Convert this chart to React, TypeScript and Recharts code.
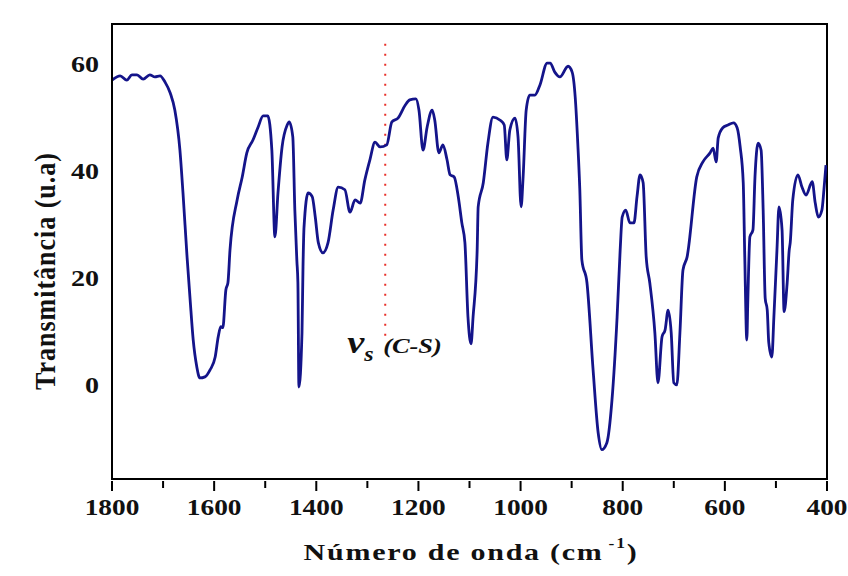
import React from 'react';
import {
  LineChart,
  Line,
  XAxis,
  YAxis,
  ReferenceLine,
  ReferenceArea
} from 'recharts';

// wavenumber (cm-1) from left to right
const wavenumbers = [
  1800, 1784, 1771, 1761, 1751, 1739, 1726, 1716, 1706, 1696, 1686, 1677, 1667, 1661, 1653,
  1647, 1641, 1634, 1628, 1618, 1608, 1598, 1592, 1587, 1583, 1577, 1573, 1569, 1555, 1545,
  1536, 1524, 1514, 1504, 1495, 1487, 1481, 1475, 1467, 1457, 1453, 1446, 1442, 1438, 1436,
  1434, 1428, 1426, 1424, 1416, 1408, 1402, 1396, 1387, 1377, 1367, 1357, 1344, 1334, 1324,
  1314, 1305, 1295, 1285, 1275, 1262, 1252, 1240, 1226, 1217, 1205, 1199, 1191, 1183, 1173,
  1168, 1160, 1152, 1144, 1138, 1130, 1122, 1115, 1109, 1103, 1097, 1093, 1085, 1083, 1073,
  1064, 1054, 1040, 1032, 1027, 1021, 1011, 1005, 999, 995, 989, 982, 972, 962, 948,
  942, 933, 923, 907, 899, 893, 888, 884, 880, 870, 858, 848, 841, 831, 821,
  811, 805, 801, 794, 786, 778, 772, 766, 760, 754, 747, 737, 731, 723, 717,
  711, 705, 700, 694, 688, 682, 674, 655, 643, 629, 623, 617, 613, 604, 594,
  583, 576, 570, 564, 561, 557, 555, 551, 545, 541, 535, 529, 525, 521, 517,
  514, 508, 504, 498, 494, 488, 484, 478, 474, 472, 467, 457, 449, 441, 429,
  423, 417, 410, 406, 402
];

const transmittance = [
  56.8, 57.6, 56.8, 57.8, 57.8, 57.0, 57.8, 57.4, 57.6, 56.4, 54.4, 51.2, 43.7, 35.7, 23.7,
  15.7, 8.2, 3.2, 1.1, 1.3, 2.6, 5.0, 8.8, 10.7, 10.5, 17.6, 18.9, 25.0, 34.4, 38.7,
  43.2, 45.6, 48.0, 50.1, 50.1, 43.7, 27.5, 35.7, 44.3, 48.4, 49.0, 46.2, 32.5, 23.0, 18.9,
  -0.6, 9.5, 21.9, 29.3, 35.7, 35.0, 31.2, 26.4, 24.5, 26.4, 32.5, 36.8, 36.3, 32.1, 34.4,
  33.8, 38.1, 41.9, 45.2, 44.3, 44.7, 49.0, 49.7, 52.1, 53.1, 53.3, 51.2, 43.7, 48.0, 51.2,
  49.3, 43.2, 44.7, 41.9, 39.1, 38.7, 35.0, 30.1, 26.4, 12.5, 7.5, 12.5, 25.0, 33.1, 37.6,
  45.0, 49.9, 49.3, 48.4, 41.9, 47.5, 49.7, 46.2, 33.1, 38.7, 51.2, 54.0, 54.0, 55.9, 60.0,
  60.0, 58.3, 57.4, 59.4, 58.3, 53.6, 45.0, 36.3, 23.2, 18.9, 2.6, -9.2, -12.3, -11.0, -3.0,
  12.5, 25.0, 31.2, 32.5, 30.1, 30.1, 35.0, 39.1, 37.6, 23.7, 18.9, 9.5, 0.2, 8.8, 10.1,
  13.8, 9.5, 0.2, -0.2, 9.5, 21.3, 23.7, 38.7, 41.5, 43.2, 44.1, 41.5, 46.0, 47.9, 48.4,
  48.8, 47.9, 44.3, 37.6, 23.7, 8.2, 15.7, 27.5, 28.8, 38.7, 45.0, 43.7, 32.5, 16.0, 13.8,
  7.7, 5.0, 12.5, 25.0, 33.1, 28.8, 13.5, 18.9, 25.0, 26.4, 34.4, 39.1, 36.8, 35.3, 37.8,
  33.8, 31.2, 32.5, 36.3, 40.9
];

const xTicks = [1800, 1700, 1600, 1500, 1400, 1300, 1200, 1100, 1000, 900, 800, 700, 600, 500, 400];
const xLabels = [1800, 1600, 1400, 1200, 1000, 800, 600, 400];
const yTicks = [0, 20, 40, 60];
const yDomain = [-17.8, 67.3];
const csPosition = 1265;
const csRange = [9, 64];

const data = wavenumbers.map((wn, i) => ({ wn, t: transmittance[i] }));

const serif = {
  fontFamily: '"Liberation Serif", "Times New Roman", Times, serif',
  fontWeight: 'bold' as const
};

const XTick = (props: any) => {
  const { x, y, payload } = props;
  const major = xLabels.includes(payload.value);
  return (
    <g>
      <line x1={x} x2={x} y1={y} y2={y + (major ? 10 : 7)} stroke="#000" strokeWidth={2} />
      {major && (
        <text
          transform={`translate(${x},${y + 34}) scale(1.14,1)`}
          textAnchor="middle"
          style={serif}
          fontSize={24}
          fill="#111"
        >
          {payload.value}
        </text>
      )}
    </g>
  );
};

const YTick = (props: any) => {
  const { x, y, payload } = props;
  return (
    <text
      transform={`translate(${x - 11},${y + 9}) scale(1.17,1)`}
      textAnchor="end"
      style={serif}
      fontSize={24}
      fill="#111"
    >
      {payload.value}
    </text>
  );
};

const YTitle = () => (
  <text
    transform="translate(55,271) rotate(-90) scale(1,1.15)"
    textAnchor="middle"
    style={serif}
    fontSize={26}
    letterSpacing={1}
    fill="#111"
  >
    Transmitância (u.a)
  </text>
);

const XTitle = () => (
  <text
    transform="translate(471,560) scale(1.25,1)"
    textAnchor="middle"
    style={serif}
    fontSize={24}
    letterSpacing={1.4}
    fill="#111"
  >
    Número de onda (cm
    <tspan dx={4} dy={-12} fontSize={14}>-1</tspan>
    <tspan dy={12}>)</tspan>
  </text>
);

const CsLabel = (props: any) => {
  const vb = props.viewBox || {};
  const x = (vb.x ?? 385) - 38;
  const y = (vb.y ?? 45) + (vb.height ?? 291) + 17;
  return (
    <text
      transform={`translate(${x},${y}) scale(1.2,1)`}
      style={{ ...serif, fontStyle: 'italic' }}
      fill="#111"
    >
      <tspan fontSize={32}>ν</tspan>
      <tspan fontSize={20} dy={8}>s</tspan>
      <tspan fontSize={22} dx={8} dy={-8}>(C-S)</tspan>
    </text>
  );
};

const App: React.FC = () => {
  return (
    <div style={{ position: 'absolute', left: 0, top: 0, background: '#fff' }}>
      <LineChart
        width={848}
        height={576}
        data={data}
        margin={{ top: 24, right: 21, bottom: 0, left: 0 }}
      >
        <XAxis
          dataKey="wn"
          type="number"
          domain={[400, 1800]}
          reversed
          ticks={xTicks}
          interval={0}
          tickSize={0}
          tickLine={false}
          tick={<XTick />}
          axisLine={{ stroke: '#000', strokeWidth: 2 }}
          height={97}
          allowDataOverflow
          label={{ content: () => <XTitle /> }}
        />
        <YAxis
          type="number"
          domain={yDomain}
          ticks={yTicks}
          interval={0}
          tickSize={0}
          tickLine={false}
          tick={<YTick />}
          axisLine={{ stroke: '#000', strokeWidth: 2 }}
          width={112}
          allowDataOverflow
          label={{ content: () => <YTitle /> }}
        />
        <ReferenceArea
          x1={1800}
          x2={400}
          y1={yDomain[0]}
          y2={yDomain[1]}
          fill="none"
          stroke="#000"
          strokeWidth={2}
          ifOverflow="visible"
        />
        <ReferenceLine
          segment={[{ x: csPosition, y: csRange[0] }, { x: csPosition, y: csRange[1] }]}
          stroke="#e8302a"
          strokeWidth={2}
          strokeDasharray="2 8"
          label={<CsLabel />}
        />
        <Line
          type="monotone"
          dataKey="t"
          stroke="#14148a"
          strokeWidth={2.8}
          dot={false}
          isAnimationActive={false}
        />
      </LineChart>
    </div>
  );
};

export default App;
